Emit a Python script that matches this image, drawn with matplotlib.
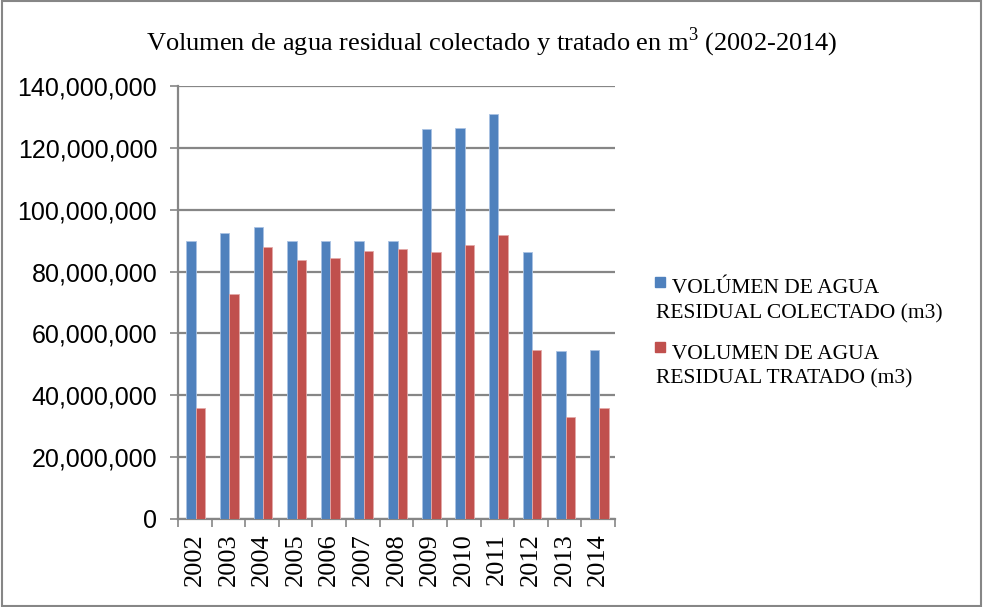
import matplotlib.pyplot as plt
import matplotlib.patches as mpatches
import numpy as np
from matplotlib.ticker import FuncFormatter
from matplotlib.legend_handler import HandlerPatch

plt.rcParams["mathtext.fontset"] = "custom"
plt.rcParams["mathtext.rm"] = "Liberation Serif"

# Data
years = ["2002", "2003", "2004", "2005", "2006", "2007", "2008",
         "2009", "2010", "2011", "2012", "2013", "2014"]
colectado = [90.0, 92.6, 94.4, 90.0, 90.0, 90.0, 90.0,
             126.2, 126.4, 131.1, 86.4, 54.2, 54.6]     # millions m3
tratado = [36.0, 72.8, 87.9, 83.7, 84.5, 86.8, 87.2,
           86.2, 88.7, 91.8, 54.6, 33.1, 35.8]           # millions m3
labels = ["VOLÚMEN DE AGUA\nRESIDUAL COLECTADO (m3)",
          "VOLUMEN DE AGUA\nRESIDUAL TRATADO (m3)"]

blue = "#4F81BD"
red = "#C0504D"
grid_gray = "#868686"

fig = plt.figure(figsize=(9.83, 6.07), dpi=100)
ax = fig.add_axes([178 / 983, 1 - 519 / 607, (615 - 178) / 983, (519 - 86) / 607])

x = np.arange(len(years))
w = 0.28
ax.bar(x - w / 2 + 0.03, np.array(colectado) * 1e6, w, color=blue,
       edgecolor="#A9C2E3", linewidth=0.6, zorder=3)
ax.bar(x + w / 2 + 0.03, np.array(tratado) * 1e6, w, color=red,
       edgecolor="#E3A9A8", linewidth=0.6, zorder=3)

ax.set_xlim(-0.5, len(years) - 0.5)
ax.set_ylim(0, 140e6)
ax.set_yticks(np.arange(0, 140e6 + 1, 20e6))
ax.yaxis.set_major_formatter(FuncFormatter(lambda v, p: f"{int(v):,}"))
ax.grid(axis="y", color=grid_gray, linewidth=1.6, zorder=0)

# category ticks at boundaries, year labels in between
ax.set_xticks(np.arange(-0.5, len(years), 1.0))
ax.set_xticklabels([])
ax.set_xticks(x, minor=True)
ax.set_xticklabels(years, minor=True, rotation=90, fontsize=19,
                   family="Liberation Serif")
ax.tick_params(axis="x", which="major", length=6, width=1.2, color=grid_gray)
ax.tick_params(axis="x", which="minor", length=0, pad=10)
ax.tick_params(axis="y", length=6, width=1.2, color=grid_gray, pad=9, labelsize=18)
for lbl in ax.get_yticklabels():
    lbl.set_family("Liberation Sans")

for s in ["top", "right"]:
    ax.spines[s].set_visible(False)
for s in ["left", "bottom"]:
    ax.spines[s].set_color(grid_gray)
    ax.spines[s].set_linewidth(1.6)

fig.text(0.5, 1 - 42 / 607, r"Volumen de agua residual colectado y tratado en m$^{3}$ (2002-2014)",
         ha="center", va="center", family="Liberation Serif", fontsize=19)


# legend square sits in front of the first text line, second line wraps under it
def top_square(legend, orig_handle, xdescent, ydescent, width, height, fontsize):
    s = 0.48 * fontsize
    return mpatches.Rectangle((-xdescent - 1, -ydescent + 0.9 * fontsize), s, s)


handles = [mpatches.Patch(color=blue), mpatches.Patch(color=red)]
leg = ax.legend(handles, ["   " + lab for lab in labels], loc="center left",
                bbox_to_anchor=(637 / 983, 1 - 334 / 607),
                bbox_transform=fig.transFigure, frameon=False,
                prop={"family": "Liberation Serif", "size": 15.5},
                handlelength=0, handleheight=0.45, handletextpad=0,
                labelspacing=1.0,
                handler_map={mpatches.Patch: HandlerPatch(patch_func=top_square)})
for t in leg.get_texts():
    t.set_linespacing(1.4)

# outer border
fig.patches.append(plt.Rectangle((0.002, 0.002), 0.996, 0.996, transform=fig.transFigure,
                                 fill=False, edgecolor=grid_gray, linewidth=1.5))

fig.savefig("out.png", dpi=100)
